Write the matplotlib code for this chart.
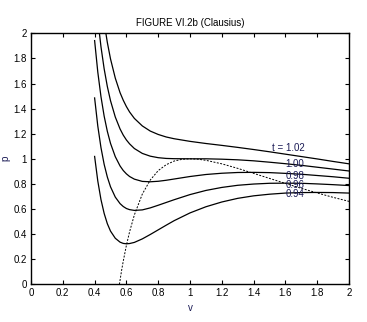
import matplotlib
matplotlib.use("Agg")
import matplotlib.pyplot as plt

plt.rcParams['font.family'] = ['Liberation Sans', 'DejaVu Sans']

# volume values (reduced)
v = [0.40, 0.42, 0.44, 0.46, 0.48, 0.50, 0.53, 0.56, 0.58, 0.60, 0.62, 0.65,
     0.70, 0.75, 0.80, 0.85, 0.90, 1.00, 1.10, 1.20, 1.30, 1.40, 1.50, 1.60,
     1.70, 1.80, 1.90, 2.00]

# isotherms, reduced pressure
p_094 = [1.019, 0.823, 0.675, 0.565, 0.483, 0.424, 0.367, 0.336, 0.326, 0.323, 0.325, 0.334,
         0.362, 0.397, 0.434, 0.471, 0.507, 0.569, 0.618, 0.656, 0.685, 0.705, 0.718, 0.727,
         0.731, 0.732, 0.731, 0.727]
p_096 = [1.485, 1.261, 1.089, 0.956, 0.855, 0.777, 0.695, 0.643, 0.620, 0.604, 0.595, 0.589,
         0.593, 0.609, 0.630, 0.652, 0.674, 0.715, 0.748, 0.772, 0.789, 0.799, 0.805, 0.806,
         0.805, 0.800, 0.794, 0.787]
p_098 = [1.942, 1.691, 1.495, 1.340, 1.219, 1.123, 1.017, 0.943, 0.907, 0.880, 0.859, 0.838,
         0.820, 0.817, 0.821, 0.829, 0.839, 0.859, 0.875, 0.885, 0.891, 0.892, 0.890, 0.884,
         0.877, 0.867, 0.857, 0.845]
p_100 = [2.390, 2.113, 1.893, 1.717, 1.576, 1.463, 1.333, 1.238, 1.189, 1.150, 1.119, 1.082,
         1.043, 1.021, 1.009, 1.003, 1.001, 1.000, 1.000, 0.997, 0.992, 0.984, 0.973, 0.961,
         0.948, 0.933, 0.918, 0.903]
p_102 = [2.831, 2.528, 2.284, 2.087, 1.927, 1.796, 1.643, 1.527, 1.467, 1.416, 1.373, 1.322,
         1.262, 1.221, 1.194, 1.174, 1.160, 1.139, 1.122, 1.107, 1.091, 1.074, 1.056, 1.037,
         1.018, 0.999, 0.979, 0.960]

# dashed locus of the extrema
v_spin = [0.556, 0.57, 0.58, 0.60, 0.62, 0.65, 0.70, 0.75, 0.80, 0.85, 0.90, 0.95, 1.00,
          1.05, 1.10, 1.20, 1.30, 1.40, 1.50, 1.60, 1.70, 1.80, 1.90, 2.00]
p_spin = [0.0, 0.113, 0.184, 0.311, 0.419, 0.553, 0.719, 0.831, 0.906, 0.953, 0.982, 0.996, 1.000,
          0.997, 0.988, 0.960, 0.924, 0.884, 0.844, 0.804, 0.765, 0.728, 0.693, 0.661]

labels = ['t = 1.02', '1.00', '0.98', '0.96', '0.94']
label_y = [1.085, 0.955, 0.865, 0.792, 0.718]

fig = plt.figure(figsize=(3.67, 3.22), dpi=100)
ax = fig.add_axes([0.0845, 0.117, 0.8665, 0.7796])

for p in [p_094, p_096, p_098, p_100, p_102]:
    ax.plot(v, p, color='black', lw=0.9)
ax.plot(v_spin, p_spin, color='black', lw=0.7, linestyle=(0, (2, 1.5)))

for lab, yy in zip(labels, label_y):
    ax.text(1.72, yy, lab, ha='right', va='center', fontsize=7, color='#1a1a55')

ax.set_xlim(0, 2)
ax.set_ylim(0, 2)
ax.set_xticks([0, 0.2, 0.4, 0.6, 0.8, 1, 1.2, 1.4, 1.6, 1.8, 2])
ax.set_xticklabels(['0', '0.2', '0.4', '0.6', '0.8', '1', '1.2', '1.4', '1.6', '1.8', '2'])
ax.set_yticks([0, 0.2, 0.4, 0.6, 0.8, 1, 1.2, 1.4, 1.6, 1.8, 2])
ax.set_yticklabels(['0', '0.2', '0.4', '0.6', '0.8', '1', '1.2', '1.4', '1.6', '1.8', '2'])
ax.tick_params(direction='in', length=3, width=0.8, labelsize=7, top=True, right=True, pad=3)
for s in ax.spines.values():
    s.set_linewidth(1.0)

ax.set_xlabel('v', fontsize=7, color='#1a1a55', labelpad=3)
ax.set_ylabel('p', fontsize=7, color='#1a1a55')
ax.yaxis.set_label_coords(-0.066, 0.5)
ax.set_title('FIGURE VI.2b (Clausius)', fontsize=7, pad=5)

fig.savefig('out.png', dpi=100)
